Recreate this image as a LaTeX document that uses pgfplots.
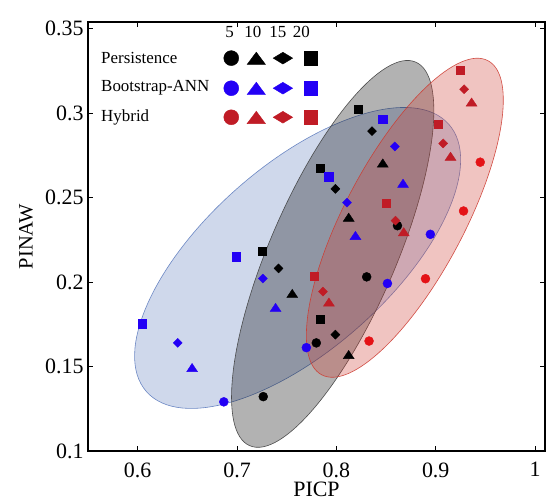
\documentclass[border=0pt]{standalone}
\usepackage{pgfplots}
\pgfplotsset{compat=1.18}
\usepackage{fontspec}
\setmainfont{Liberation Serif}
\definecolor{pblue}{RGB}{35,0,245}
\definecolor{pred}{RGB}{192,28,38}
\definecolor{predc}{RGB}{228,18,22}
\definecolor{eblue}{RGB}{95,125,190}
\definecolor{ered}{RGB}{205,60,50}
\begin{document}
\begin{tikzpicture}
\begin{axis}[
  scale only axis, width=457bp, height=429bp,
  xmin=0.55, xmax=1.01, ymin=0.1, ymax=0.354,
  xtick={0.6,0.7,0.8,0.9,1}, ytick={0.1,0.15,0.2,0.25,0.3,0.35},
  tick align=inside, major tick length=5bp,
  axis line style={line width=1.2bp},
  every tick/.style={black, line width=1bp},
  tick label style={font=\fontsize{22}{24}\selectfont},
  xticklabel style={yshift=-8bp},
  yticklabel style={xshift=-1bp},
  /pgf/number format/assume math mode=true,
  xlabel={PICP}, ylabel={PINAW},
  xlabel style={font=\fontsize{22}{24}\selectfont, at={(axis description cs:0.5,-0.0886)}, anchor=center},
  ylabel style={font=\fontsize{20.5}{22}\selectfont, at={(axis description cs:-0.1357,0.5)}, anchor=center},
  clip=false,
]
% ---- Persistence (black)
\addplot[only marks, mark=*, mark size=4.5bp, black] coordinates {(0.7264,0.1322) (0.7798,0.1640) (0.8305,0.2031) (0.8615,0.2334)};
\addplot[only marks, mark=triangle*, mark size=5.5bp, black, mark options={xscale=1.15}] coordinates {(0.7556,0.1925) (0.8124,0.1563) (0.8124,0.2376) (0.8467,0.2697)};
\addplot[only marks, mark=diamond*, mark size=4.5bp, black, mark options={xscale=1.33}] coordinates {(0.7418,0.2081) (0.7990,0.1689) (0.7990,0.2552) (0.8359,0.2894)};
\addplot[only marks, mark=square*, mark size=4bp, black] coordinates {(0.7254,0.2183) (0.7835,0.1782) (0.7835,0.2673) (0.8215,0.3023)};
% ---- Bootstrap-ANN (blue)
\addplot[only marks, mark=*, mark size=4.5bp, pblue] coordinates {(0.6867,0.1291) (0.7698,0.1612) (0.8514,0.1992) (0.8946,0.2283)};
\addplot[only marks, mark=triangle*, mark size=5.5bp, pblue, mark options={xscale=1.15}] coordinates {(0.6548,0.1486) (0.7388,0.1842) (0.8192,0.2268) (0.8671,0.2577)};
\addplot[only marks, mark=diamond*, mark size=4.5bp, pblue, mark options={xscale=1.33}] coordinates {(0.6403,0.1640) (0.7260,0.2021) (0.8107,0.2471) (0.8588,0.2803)};
\addplot[only marks, mark=square*, mark size=4.3bp, pblue] coordinates {(0.6044,0.1752) (0.6992,0.2152) (0.7925,0.2625) (0.8467,0.2964)};
% ---- Hybrid (red)
\addplot[only marks, mark=*, mark size=4.5bp, predc] coordinates {(0.8329,0.1651) (0.8897,0.2020) (0.9280,0.2421) (0.9448,0.2710)};
\addplot[only marks, mark=triangle*, mark size=5.5bp, pred, mark options={xscale=1.15}] coordinates {(0.7925,0.1874) (0.8678,0.2290) (0.9149,0.2737) (0.9361,0.3058)};
\addplot[only marks, mark=diamond*, mark size=4.5bp, pred, mark options={xscale=1.33}] coordinates {(0.7865,0.1944) (0.8595,0.2364) (0.9075,0.2821) (0.9286,0.3142)};
\addplot[only marks, mark=square*, mark size=4bp, pred] coordinates {(0.7774,0.2033) (0.8504,0.2465) (0.9028,0.2934) (0.9246,0.3252)};
% ---- confidence ellipses
\filldraw[fill=eblue, fill opacity=0.3, draw=eblue, draw opacity=0.9, line width=0.6bp, rotate around={41.5:(axis cs:0.7610,0.2143)}] (axis cs:0.7610,0.2143) ellipse [x radius=201.8bp, y radius=92.1bp];
\filldraw[fill=black, fill opacity=0.3, draw=black!75, draw opacity=0.9, line width=0.6bp, rotate around={66.6:(axis cs:0.7963,0.2167)}] (axis cs:0.7963,0.2167) ellipse [x radius=209bp, y radius=63bp];
\filldraw[fill=ered, fill opacity=0.3, draw=ered, draw opacity=0.9, line width=0.6bp, rotate around={62.1:(axis cs:0.8689,0.2381)}] (axis cs:0.8689,0.2381) ellipse [x radius=177.7bp, y radius=59.7bp];
% ---- legend (markers as plotted points)
\addplot[only marks, mark=*, mark size=7.5bp, black] coordinates {(0.6942,0.3326)};
\addplot[only marks, mark=triangle*, mark size=8.2bp, black, mark options={xscale=1.29}] coordinates {(0.7194,0.3313)};
\addplot[only marks, mark=diamond*, mark size=5.9bp, black, mark options={xscale=2.2}] coordinates {(0.7462,0.3326)};
\addplot[only marks, mark=square*, mark size=6.6bp, black] coordinates {(0.7738,0.3326)};
\addplot[only marks, mark=*, mark size=7.5bp, pblue] coordinates {(0.6942,0.3148)};
\addplot[only marks, mark=triangle*, mark size=8.2bp, pblue, mark options={xscale=1.29}] coordinates {(0.7194,0.3135)};
\addplot[only marks, mark=diamond*, mark size=5.9bp, pblue, mark options={xscale=2.2}] coordinates {(0.7462,0.3148)};
\addplot[only marks, mark=square*, mark size=6.6bp, pblue] coordinates {(0.7738,0.3148)};
\addplot[only marks, mark=*, mark size=7.5bp, pred] coordinates {(0.6942,0.2976)};
\addplot[only marks, mark=triangle*, mark size=8.2bp, pred, mark options={xscale=1.29}] coordinates {(0.7194,0.2963)};
\addplot[only marks, mark=diamond*, mark size=5.9bp, pred, mark options={xscale=2.2}] coordinates {(0.7462,0.2976)};
\addplot[only marks, mark=square*, mark size=6.6bp, pred] coordinates {(0.7738,0.2976)};
\node[anchor=west, inner sep=0pt, font=\fontsize{17}{19}\selectfont] at (axis cs:0.5631,0.3326) {Persistence};
\node[anchor=west, inner sep=0pt, font=\fontsize{17}{19}\selectfont] at (axis cs:0.5631,0.3148) {Bootstrap-ANN};
\node[anchor=west, inner sep=0pt, font=\fontsize{17}{19}\selectfont] at (axis cs:0.5631,0.2976) {Hybrid};
\node[inner sep=0pt, font=\fontsize{17}{19}\selectfont] at (axis cs:0.6926,0.3480) {5};
\node[inner sep=0pt, font=\fontsize{17}{19}\selectfont] at (axis cs:0.7159,0.3480) {10};
\node[inner sep=0pt, font=\fontsize{17}{19}\selectfont] at (axis cs:0.7411,0.3480) {15};
\node[inner sep=0pt, font=\fontsize{17}{19}\selectfont] at (axis cs:0.7647,0.3480) {20};
\end{axis}
\pgfresetboundingbox
\path[use as bounding box] ([shift={(-88bp,-52bp)}]current axis.south west) rectangle ([shift={(2bp,22bp)}]current axis.north east);
\end{tikzpicture}
\end{document}
